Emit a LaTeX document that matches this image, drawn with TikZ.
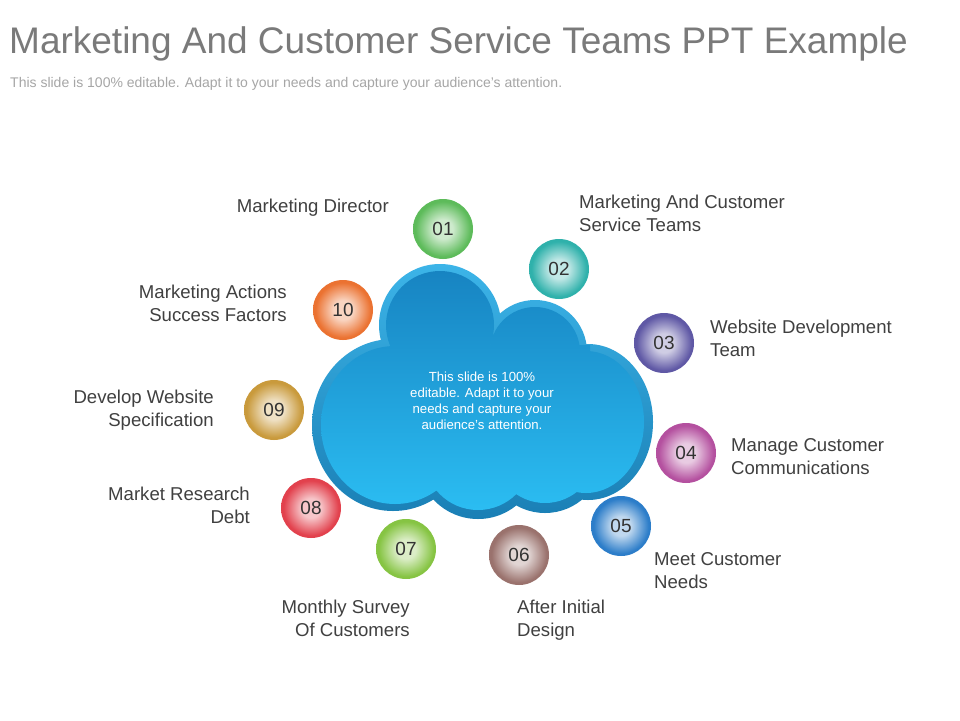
\documentclass[tikz,border=0pt]{standalone}
\usepackage{fontspec}
\setmainfont{Liberation Sans}
\definecolor{titlegray}{HTML}{7A7A7A}
\definecolor{subgray}{HTML}{A6A6A6}
\definecolor{labelgray}{HTML}{404040}
\definecolor{numgray}{HTML}{333333}
\definecolor{cA}{HTML}{5DBB5A}
\definecolor{cB}{HTML}{2FB1AB}
\definecolor{cC}{HTML}{5F58A5}
\definecolor{cD}{HTML}{B4509F}
\definecolor{cE}{HTML}{2C7DC9}
\definecolor{cF}{HTML}{9A726D}
\definecolor{cG}{HTML}{86C443}
\definecolor{cH}{HTML}{E2414D}
\definecolor{cI}{HTML}{C99A3C}
\definecolor{cJ}{HTML}{EB7231}
\definecolor{cloudDark}{HTML}{1784C2}
\definecolor{cloudLight}{HTML}{2BBDF2}
\definecolor{rimLight}{HTML}{3CB4E8}
\definecolor{rimDark}{HTML}{1A7FB5}
\newcommand{\mkball}[1]{%
  \colorlet{#1l}{#1!30!white}%
  \pgfdeclareradialshading{sh#1}{\pgfpoint{0bp}{0bp}}{color(0bp)=(#1l); color(8bp)=(#1l); color(23bp)=(#1); color(25bp)=(#1); color(50bp)=(#1)}%
}
\mkball{cA}\mkball{cB}\mkball{cC}\mkball{cD}\mkball{cE}
\mkball{cF}\mkball{cG}\mkball{cH}\mkball{cI}\mkball{cJ}
\tikzset{
  ballnode/.style={circle, minimum size=60pt, inner sep=0pt, shading=sh#1,
    font=\fontsize{19}{19}\selectfont, text=numgray},
  lbl/.style={font=\fontsize{18.6}{23}\selectfont, text=labelgray, inner sep=0pt},
  lblL/.style={lbl, align=left, anchor=north west},
  lblR/.style={lbl, align=right, anchor=north east},
}
\begin{document}
\begin{tikzpicture}[x=1pt,y=-1pt]
\useasboundingbox[fill=white] (0,0) rectangle (960,720);
% title
\node[anchor=base west, inner sep=0pt, text=titlegray, font=\fontsize{37}{37}\selectfont] (title) at (9,53) {Marketing And Customer Service Teams PPT Example};
\node[anchor=base west, inner sep=0pt, text=subgray, font=\fontsize{14}{14}\selectfont] (subtitle) at (10,87) {This slide is 100\% editable. Adapt it to your needs and capture your audience's attention.};
% cloud rim
\shade[shading angle=135, top color=rimLight, bottom color=rimDark]
  (440,325) circle[radius=61pt]
  (535,352) circle[radius=52pt]
  (588,422) ellipse[x radius=65pt, y radius=78pt]
  (393,425) ellipse[x radius=81pt, y radius=86pt]
  (478,458) circle[radius=61pt]
  (545,455) circle[radius=58pt]
  (400,345) rectangle (590,470);
% cloud body
\shade[shading angle=135, top color=cloudDark, bottom color=cloudLight]
  (440,325) circle[radius=54pt]
  (535,352) circle[radius=45pt]
  (586,422) ellipse[x radius=58pt, y radius=71pt]
  (395,425) ellipse[x radius=74pt, y radius=79pt]
  (478,456) circle[radius=54pt]
  (545,452) circle[radius=51pt]
  (400,345) rectangle (590,470);
\node[text=white, align=center, font=\fontsize{13.2}{16}\selectfont, inner sep=0pt] (cloudtext) at (482,401)
  {This slide is 100\%\\editable. Adapt it to your\\needs and capture your\\audience's attention.};
% balls
\node[ballnode=cA] (n01) at (443,229) {01};
\node[ballnode=cB] (n02) at (559,269) {02};
\node[ballnode=cC] (n03) at (664,343) {03};
\node[ballnode=cD] (n04) at (686,453) {04};
\node[ballnode=cE] (n05) at (621,526) {05};
\node[ballnode=cF] (n06) at (519,555) {06};
\node[ballnode=cG] (n07) at (406,549) {07};
\node[ballnode=cH] (n08) at (311,508) {08};
\node[ballnode=cI] (n09) at (274,410) {09};
\node[ballnode=cJ] (n10) at (343,310) {10};
% labels
\node[lblR] (l01) at (389,199) {Marketing Director};
\node[lblL] (l02) at (579,195) {Marketing And Customer\\Service Teams};
\node[lblL] (l03) at (710,320) {Website Development\\Team};
\node[lblL] (l04) at (731,438) {Manage Customer\\Communications};
\node[lblL] (l05) at (654,552) {Meet Customer\\Needs};
\node[lblL] (l06) at (517,600) {After Initial\\Design};
\node[lblR] (l07) at (410,600) {Monthly Survey\\Of Customers};
\node[lblR] (l08) at (250,487) {Market Research\\Debt};
\node[lblR] (l09) at (214,390) {Develop Website\\Specification};
\node[lblR] (l10) at (287,285) {Marketing Actions\\Success Factors};
\end{tikzpicture}
\end{document}
